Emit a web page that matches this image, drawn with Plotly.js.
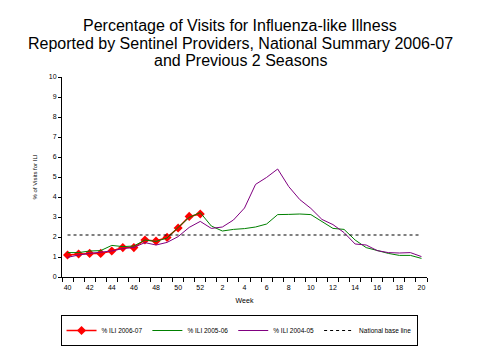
<!DOCTYPE html>
<html>
<head>
<meta charset="utf-8">
<script src="https://cdn.plot.ly/plotly-3.0.1.min.js"></script>
<style>html,body{margin:0;padding:0;background:#fff;}#chart{width:479px;height:360px;}</style>
</head>
<body>
<div id="chart"></div>
<script>
const weeks = ["40","41","42","43","44","45","46","47","48","49","50","51","52",
  "1","2","3","4","5","6","7","8","9","10","11","12","13","14","15","16","17","18","19","20"];
const ili0607 = [1.1,1.15,1.18,1.18,1.3,1.47,1.47,1.85,1.8,1.98,2.45,3.03,3.15];
const ili0506 = [1.22,1.22,1.3,1.32,1.58,1.52,1.55,1.85,1.78,1.95,2.48,2.98,3.22,
  2.55,2.3,2.38,2.42,2.5,2.65,3.12,3.13,3.15,3.12,2.77,2.43,2.38,1.85,1.47,1.32,1.18,1.08,1.08,0.93];
const ili0405 = [0.98,1.1,1.18,1.25,1.3,1.42,1.48,1.72,1.6,1.73,2.02,2.48,2.78,
  2.43,2.5,2.85,3.45,4.63,4.98,5.4,4.52,3.87,3.43,2.88,2.62,2.22,1.65,1.6,1.32,1.22,1.2,1.22,1.02];
const baseline = 2.1;
const yTicks = [0,1,2,3,4,5,6,7,8,9,10];
const titleLines = ["Percentage of Visits for Influenza-like Illness",
  "Reported by Sentinel Providers, National Summary 2006-07",
  "and Previous 2 Seasons"];

const idx = weeks.map((w,i)=>i);
const labelIdx = idx.filter(i=>i%2===0);
const labelTxt = labelIdx.map(i=>weeks[i]);

const font = "Arial, 'Liberation Sans', sans-serif";

const traces = [
  {x: idx.slice(0, ili0607.length), y: ili0607, name: "% ILI 2006-07", type: "scatter", mode: "lines+markers",
   line: {color: "#FF0000", width: 1.5}, marker: {symbol: "diamond", size: 7, color: "#FF0000"}},
  {x: idx.slice(0, ili0506.length), y: ili0506, name: "% ILI 2005-06", type: "scatter", mode: "lines",
   line: {color: "#008000", width: 1}},
  {x: idx.slice(0, ili0405.length), y: ili0405, name: "% ILI 2004-05", type: "scatter", mode: "lines",
   line: {color: "#800080", width: 1}},
  {x: [idx[0], idx[idx.length-1]], y: [baseline, baseline], name: "National base line", type: "scatter", mode: "lines",
   line: {color: "#000000", width: 1.2, dash: "3px,3px"}}
];

const titleY = [1.26, 1.17, 1.085];
const annotations = titleLines.map((t,i)=>({
  text: t, xref: "paper", yref: "paper", x: 0.4877, y: titleY[i], xanchor: "center", yanchor: "middle",
  showarrow: false, font: {size: 16, family: font, color: "#000"}
}));

const layout = {
  width: 479, height: 360,
  margin: {l: 62, r: 52, t: 77, b: 83},
  paper_bgcolor: "#fff", plot_bgcolor: "#fff",
  font: {family: font, color: "#000"},
  annotations: annotations,
  xaxis: {range: [-0.5, 32.5], tickmode: "array", tickvals: labelIdx, ticktext: labelTxt,
    ticks: "", showgrid: false, zeroline: false, showline: true, linecolor: "#000", linewidth: 1,
    tickfont: {size: 7, family: font}, ticklabelstandoff: 4,
    minor: {tickmode: "linear", tick0: -0.5, dtick: 1, ticks: "outside", ticklen: 4, tickcolor: "#000", showgrid: false},
    title: {text: "Week", font: {size: 7, family: font}, standoff: 7}},
  yaxis: {range: [0, 10], tickmode: "array", tickvals: yTicks, ticks: "outside", ticklen: 3, tickcolor: "#000",
    showgrid: false, zeroline: false, showline: true, linecolor: "#000", linewidth: 1,
    tickfont: {size: 7, family: font},
    title: {text: "% of Visits for ILI", font: {size: 6, family: font}, standoff: 10}},
  showlegend: true,
  legend: {orientation: "h", x: 0.485, xanchor: "center", y: -0.19, yanchor: "top",
    bordercolor: "#000", borderwidth: 1, font: {size: 6.5, family: font}, itemwidth: 30, tracegroupgap: 0}
};

Plotly.newPlot("chart", traces, layout, {displayModeBar: false, staticPlot: true});
</script>
</body>
</html>
